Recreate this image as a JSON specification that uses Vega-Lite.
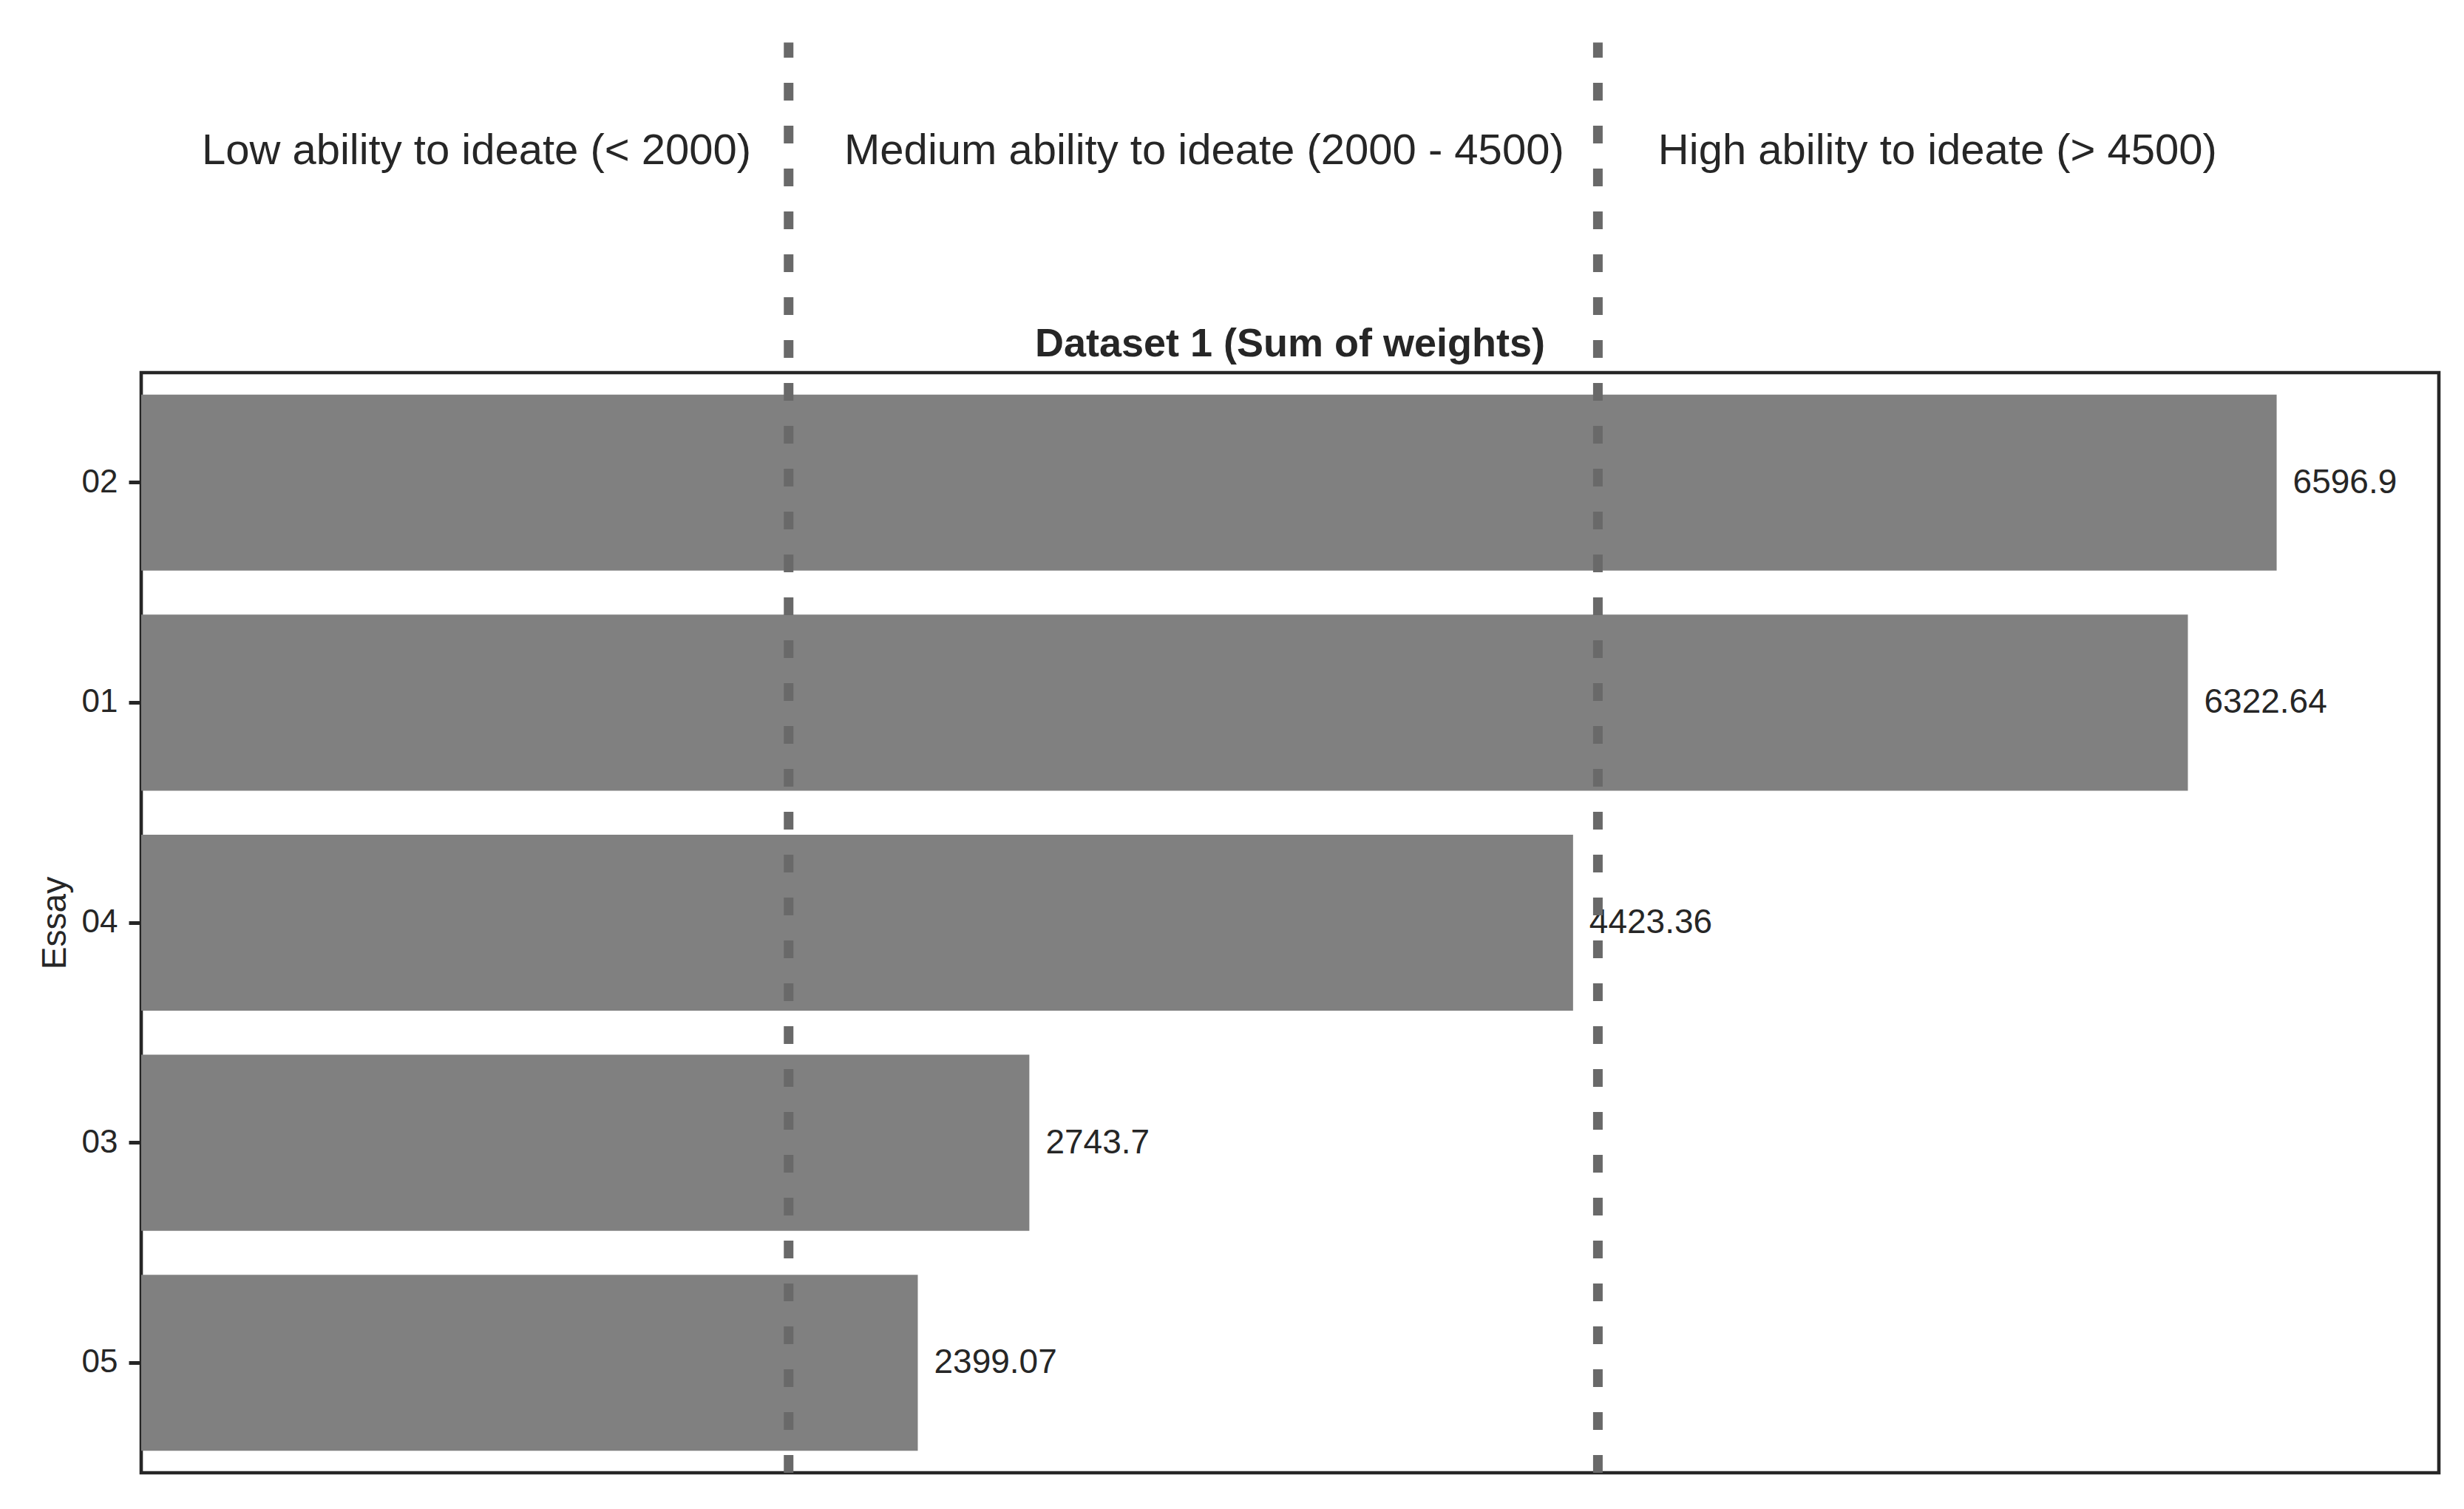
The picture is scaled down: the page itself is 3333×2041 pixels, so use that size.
{
  "$schema": "https://vega.github.io/schema/vega-lite/v6.json",
  "autosize": {"type": "none"},
  "padding": {"left": 191, "top": 504, "right": 32, "bottom": 49},
  "width": 3108,
  "height": 1488,
  "background": "white",
  "config": {
    "font": "Liberation Sans",
    "view": {"stroke": "#262626", "strokeWidth": 4.6}
  },
  "datasets": {
    "essays": [
      {"Essay": "02", "weight": 6596.9},
      {"Essay": "01", "weight": 6322.64},
      {"Essay": "04", "weight": 4423.36},
      {"Essay": "03", "weight": 2743.7},
      {"Essay": "05", "weight": 2399.07}
    ],
    "thresholds": [{"threshold": 2000}, {"threshold": 4500}],
    "headers": [
      {"label": "Low ability to ideate (< 2000)", "start": 187},
      {"label": "Medium ability to ideate (2000 - 4500)", "start": 2172},
      {"label": "High ability to ideate (> 4500)", "start": 4686}
    ],
    "title": [{"title": "Dataset 1 (Sum of weights)"}]
  },
  "layer": [
    {
      "data": {"name": "essays"},
      "encoding": {
        "y": {
          "field": "Essay",
          "type": "nominal",
          "sort": ["02", "01", "04", "03", "05"],
          "scale": {"paddingInner": 0.2, "paddingOuter": 0.1},
          "axis": {
            "title": "Essay",
            "domain": false,
            "grid": false,
            "labelFontSize": 44,
            "labelColor": "#262626",
            "labelPadding": 15,
            "tickSize": 17,
            "tickWidth": 5,
            "tickColor": "#262626",
            "titleFontSize": 46,
            "titleFontWeight": "normal",
            "titleColor": "#262626",
            "titlePadding": 12
          }
        },
        "x": {
          "field": "weight",
          "type": "quantitative",
          "scale": {"domain": [0, 7098], "nice": false, "zero": true},
          "axis": null
        }
      },
      "layer": [
        {"mark": {"type": "bar", "color": "#808080"}},
        {
          "mark": {
            "type": "text",
            "align": "left",
            "baseline": "middle",
            "dx": 22,
            "fontSize": 46,
            "color": "#262626"
          },
          "encoding": {"text": {"field": "weight", "type": "nominal"}}
        }
      ]
    },
    {
      "layer": [
        {
          "data": {"name": "thresholds"},
          "mark": {
            "type": "rule",
            "color": "#696969",
            "strokeWidth": 13,
            "strokeDash": [24, 34],
            "strokeCap": "butt"
          },
          "encoding": {
            "x": {"field": "threshold", "type": "quantitative"},
            "y": {
              "datum": 0,
              "type": "quantitative",
              "scale": {"domain": [0, 1], "nice": false, "zero": false},
              "axis": null
            },
            "y2": {"datum": 1.3}
          }
        },
        {
          "data": {"name": "headers"},
          "mark": {
            "type": "text",
            "align": "left",
            "baseline": "alphabetic",
            "fontSize": 58,
            "color": "#262626"
          },
          "encoding": {
            "x": {"field": "start", "type": "quantitative"},
            "y": {"datum": 1.1895, "type": "quantitative"},
            "text": {"field": "label"}
          }
        },
        {
          "data": {"name": "title"},
          "mark": {
            "type": "text",
            "align": "center",
            "baseline": "alphabetic",
            "fontSize": 54,
            "fontWeight": "bold",
            "color": "#262626"
          },
          "encoding": {
            "x": {"datum": 3549, "type": "quantitative"},
            "y": {"datum": 1.0148, "type": "quantitative"},
            "text": {"field": "title"}
          }
        }
      ]
    }
  ],
  "resolve": {"scale": {"y": "independent"}, "axis": {"y": "independent"}}
}
